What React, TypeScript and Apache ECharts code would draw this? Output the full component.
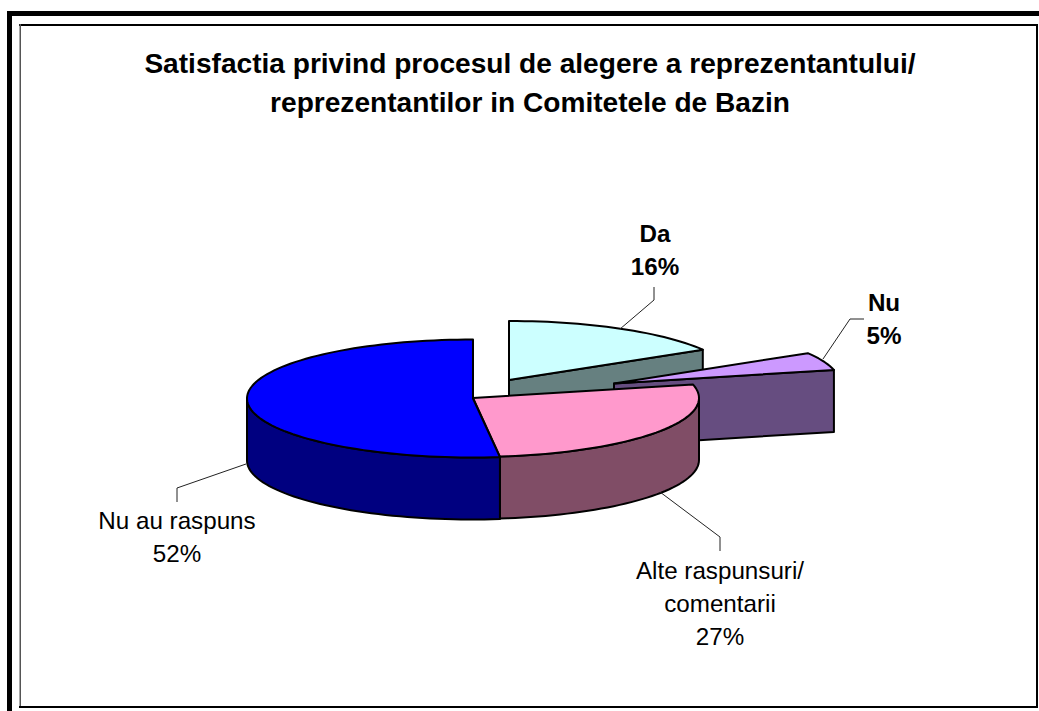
import React, { useEffect, useRef } from "react";
import * as echarts from "echarts";

const titleLines = [
  "Satisfactia privind procesul de alegere a reprezentantului/",
  "reprezentantilor in Comitetele de Bazin",
];
const categories = ["Da", "Nu", "Alte raspunsuri/\ncomentarii", "Nu au raspuns"];
const shares = [16.4, 4.9, 26.8, 51.9];

const topColors = ["#ccffff", "#cc99ff", "#ff99cc", "#0000ff"];
const sideColors = ["#668080", "#664d80", "#804d66", "#000080"];
const boldLabels = [true, true, false, false];

const apexes = [[509, 380], [614, 383.5], [473, 398], [473, 398.5]];
const labelCenters = [[655, 250], [884, 318.5], [720, 603], [177, 537]];
const leaders = [
  [[620, 329], [654, 300], [654, 287]],
  [[823, 359], [850, 319], [864, 319]],
  [[660, 492], [720, 537], [720, 551]],
  [[246, 464], [177, 488], [177, 502]],
];

const RX = 226;
const RY = 59;
const DEPTH = 62;
const FONT = "'Liberation Sans', Arial, sans-serif";
const LINE = { stroke: "#000", lineWidth: 2, lineJoin: "round" as const };

const total = shares.reduce((a, b) => a + b, 0);

function rim(apex: number[], deg: number, drop = 0): number[] {
  const t = (deg * Math.PI) / 180;
  return [apex[0] + RX * Math.sin(t), apex[1] - RY * Math.cos(t) + drop];
}
function arc(apex: number[], from: number, to: number, drop = 0): number[][] {
  const out: number[][] = [];
  const n = Math.max(2, Math.ceil(Math.abs(to - from) / 2));
  for (let i = 0; i <= n; i++) out.push(rim(apex, from + ((to - from) * i) / n, drop));
  return out;
}

function renderSlice(params: any, api: any) {
  const i = params.dataIndex;
  const value = api.value(0) as number;
  const before = shares.slice(0, i).reduce((a, b) => a + b, 0);
  const a0 = (before / total) * 360;
  const a1 = ((before + value) / total) * 360;
  const apex = apexes[i];
  const low = [apex[0], apex[1] + DEPTH];
  const children: any[] = [];
  const side = { ...LINE, fill: sideColors[i] };

  if (Math.sin((a1 * Math.PI) / 180) > 0.01 && i < 3) {
    children.push({
      type: "polygon",
      shape: { points: [apex, rim(apex, a1), rim(apex, a1, DEPTH), low] },
      style: side,
    });
  }
  const w0 = Math.max(a0, 90);
  const w1 = Math.min(a1, 270);
  if (w1 > w0) {
    children.push({
      type: "polygon",
      shape: { points: [...arc(apex, w0, w1), ...arc(apex, w1, w0, DEPTH)] },
      style: side,
    });
  }
  children.push({
    type: "polygon",
    shape: { points: [apex, ...arc(apex, a0, a1)] },
    style: { ...LINE, fill: topColors[i] },
  });
  children.push({
    type: "polyline",
    shape: { points: leaders[i] },
    style: { stroke: "#222", lineWidth: 1, fill: "none" },
    z2: 10,
  });
  children.push({
    type: "text",
    x: labelCenters[i][0],
    y: labelCenters[i][1],
    z2: 10,
    style: {
      text: `${categories[i]}\n${Math.round((value / total) * 100)}%`,
      fill: "#000",
      font: `${boldLabels[i] ? "bold " : ""}24.2px ${FONT}`,
      align: "center",
      verticalAlign: "middle",
      lineHeight: 33,
    },
  });
  return { type: "group", children };
}

export default function App() {
  const ref = useRef<HTMLDivElement>(null);
  useEffect(() => {
    const chart = echarts.init(ref.current!, null, { renderer: "svg" });
    const bar = (x: number, y: number, width: number, height: number, fill = "#000") => ({
      type: "rect",
      shape: { x, y, width, height },
      style: { fill },
      silent: true,
    });
    chart.setOption({
      animation: false,
      backgroundColor: "#fff",
      title: {
        text: titleLines.join("\n"),
        left: 525,
        top: 38.5,
        textAlign: "center",
        textStyle: {
          fontFamily: FONT,
          fontWeight: "bold",
          fontSize: 28.1,
          lineHeight: 39,
          color: "#000",
        },
      },
      graphic: [
        bar(7, 11, 1032, 5),
        bar(7, 11, 5, 700),
        bar(19, 24, 1019, 2),
        bar(19.5, 24, 1.5, 684, "#555"),
        bar(1036, 24, 2, 684),
        bar(19, 706, 1019, 2),
      ],
      series: [
        {
          type: "custom",
          coordinateSystem: "none",
          silent: true,
          data: shares.map((v, i) => ({ name: categories[i], value: [v] })),
          renderItem: renderSlice,
        },
      ],
    });
    return () => chart.dispose();
  }, []);
  return (
    <div
      ref={ref}
      style={{ position: "absolute", left: 0, top: 0, width: 1039, height: 711 }}
    />
  );
}
